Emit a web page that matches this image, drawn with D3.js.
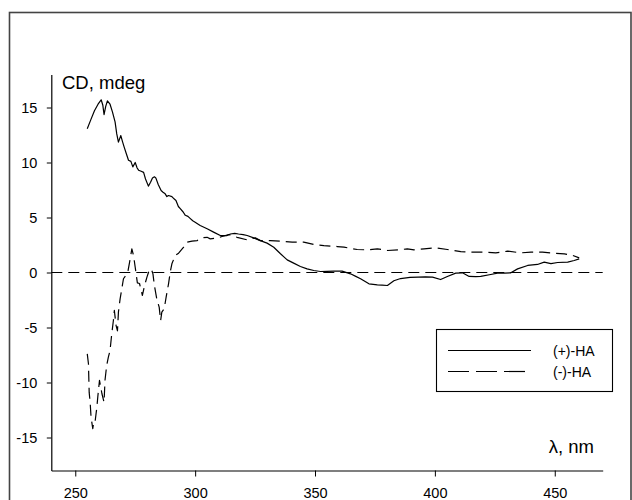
<!DOCTYPE html>
<html>
<head>
<meta charset="utf-8">
<script src="https://cdn.jsdelivr.net/npm/d3@7"></script>
<style>
  html, body { margin: 0; padding: 0; background: #fff; }
  svg { display: block; }
  text { font-family: "Liberation Sans", Arial, sans-serif; fill: #000; }
</style>
</head>
<body>
<svg id="chart" width="632" height="500"></svg>
<script>
// ---- data ----
const xTicks = [250, 300, 350, 400, 450];
const yTicks = [-15, -10, -5, 0, 5, 10, 15];
const seriesNames = ["(+)-HA", "(-)-HA"];

const plusWl = [255.0,256.5,258.0,259.5,260.8,261.5,262.0,262.7,263.4,264.5,265.5,266.6,267.3,268.0,269.0,269.7,270.4,271.3,272.2,273.2,274.0,275.0,275.8,276.4,277.5,278.5,279.3,280.5,281.4,282.2,283.0,283.6,284.6,285.8,286.6,287.5,288.2,288.9,290.3,291.2,292.0,293.0,293.8,295.0,295.9,297.0,298.0,299.0,300.0,302.1,305.0,307.7,310.5,313.3,314.7,316.5,318.1,320.0,321.7,324.4,327.2,330.0,332.8,335.6,338.4,341.1,343.9,346.7,349.5,352.3,355.0,357.8,361.3,364.8,367.0,369.0,372.5,376.0,378.0,380.2,382.9,385.7,389.6,393.0,396.0,399.0,402.4,405.2,408.7,411.5,414.3,417.0,419.1,423.3,426.1,429.0,431.7,434.5,438.7,442.8,445.6,448.4,451.2,455.4,458.1,460.2];
const plusCd = [13.06,13.9,14.7,15.3,15.7,15.2,14.36,15.1,15.6,15.3,14.6,13.7,12.6,11.85,12.45,11.9,11.4,10.8,10.2,10.1,9.6,10.0,9.5,9.3,9.2,9.1,8.5,7.85,8.2,8.6,8.7,8.6,8.0,7.45,7.3,7.15,6.9,7.0,6.9,6.7,6.55,6.0,5.8,5.5,5.2,5.1,4.9,4.7,4.57,4.27,3.97,3.67,3.36,3.36,3.5,3.55,3.5,3.45,3.36,3.15,2.9,2.67,2.3,1.7,1.15,0.85,0.55,0.33,0.18,0.09,0.1,0.12,0.12,-0.12,-0.35,-0.57,-1.03,-1.12,-1.15,-1.18,-0.75,-0.55,-0.45,-0.42,-0.4,-0.42,-0.64,-0.36,-0.06,-0.03,-0.36,-0.38,-0.36,-0.18,-0.06,-0.05,-0.03,0.33,0.64,0.73,0.94,0.8,0.91,0.94,1.09,1.24];

const minusWl = [255.0,255.5,255.6,255.8,256.2,256.6,257.3,257.8,258.3,259.0,259.4,260.1,261.1,262.0,262.4,263.1,263.8,264.5,265.2,265.9,266.3,267.0,267.6,268.0,268.7,269.4,270.1,271.1,271.9,272.9,273.6,274.3,275.0,275.9,276.8,278.0,278.9,279.9,280.8,281.7,282.4,283.0,284.0,285.0,285.6,286.1,287.1,287.9,288.9,289.6,290.3,291.7,293.1,295.2,296.6,298.7,300.8,302.9,305.0,306.3,309.1,311.2,314.0,317.5,321.7,325.1,327.2,331.4,335.6,340.5,345.3,349.5,353.7,359.3,362.1,367.6,371.8,376.0,380.2,385.0,388.5,391.3,395.5,400.3,405.2,410.8,415.0,420.5,425.4,430.3,435.9,440.1,444.9,449.1,454.0,457.5,460.2];
const minusCd = [-7.4,-8.3,-9.2,-10.9,-11.8,-13.2,-14.2,-13.45,-13.5,-12.25,-11.3,-9.8,-11.0,-11.8,-9.8,-8.45,-7.7,-7.1,-5.6,-4.36,-3.45,-4.8,-5.3,-3.6,-2.4,-1.5,-0.57,-0.27,0.03,1.24,2.15,1.55,0.48,-0.94,-1.0,-2.09,-1.18,-0.42,0.18,0.33,-0.12,-1.18,-2.4,-3.15,-4.36,-3.6,-3.3,-2.24,-1.03,0.03,0.79,1.55,1.76,2.3,2.76,2.85,2.9,3.15,3.2,3.06,3.12,3.27,3.45,3.2,2.97,3.15,2.9,2.9,2.85,2.76,2.76,2.55,2.45,2.36,2.3,2.09,2.06,2.15,2.0,2.06,2.15,2.06,2.15,2.24,2.09,1.9,1.85,1.85,1.79,1.94,1.79,1.85,1.85,1.76,1.7,1.55,1.33];

// ---- layout ----
const svg = d3.select("#chart");
const x = d3.scaleLinear().domain([240, 470]).range([51.3, 602.7]);
const y = d3.scaleLinear().domain([-18, 18]).range([470.5, 74.5]);

// outer frame
svg.append("rect")
  .attr("x", 9.5).attr("y", 12.5).attr("width", 621.5).attr("height", 500)
  .attr("fill", "none").attr("stroke", "#444").attr("stroke-width", 1.6);

// zero line
svg.append("line")
  .attr("x1", x(240)).attr("x2", x(470))
  .attr("y1", y(0)).attr("y2", y(0))
  .attr("stroke", "#000").attr("stroke-width", 1)
  .attr("stroke-dasharray", "11,6");

// axes
const fmt = d => String(d);
const yAxis = svg.append("g").attr("transform", `translate(${x(240)},0)`)
  .call(d3.axisLeft(y).tickValues(yTicks).tickSize(4.5).tickSizeOuter(0).tickPadding(9.5).tickFormat(fmt));
const xAxis = svg.append("g").attr("transform", `translate(0,${y(-18)})`)
  .call(d3.axisBottom(x).tickValues(xTicks).tickSize(6).tickSizeOuter(0).tickPadding(11.5).tickFormat(fmt));
[yAxis, xAxis].forEach(g => {
  g.selectAll("path.domain").attr("stroke", "#000").attr("stroke-width", 1.2);
  g.selectAll(".tick line").attr("stroke", "#000").attr("stroke-width", 1);
  g.selectAll("text").attr("font-size", "14.5px")
    .attr("font-family", "'Liberation Sans', Arial, sans-serif").attr("fill", "#000");
});

// curves
const line = d3.line().x(d => x(d[0])).y(d => y(d[1]));
const plusData = plusWl.map((w, i) => [w, plusCd[i]]);
const minusData = minusWl.map((w, i) => [w, minusCd[i]]);

svg.append("path").datum(plusData).attr("d", line)
  .attr("fill", "none").attr("stroke", "#000").attr("stroke-width", 1.2)
  .attr("stroke-linejoin", "round");
svg.append("path").datum(minusData).attr("d", line)
  .attr("fill", "none").attr("stroke", "#000").attr("stroke-width", 1.2)
  .attr("stroke-linejoin", "round").attr("stroke-dasharray", "11,6");

// axis titles
svg.append("text").attr("x", 62).attr("y", 89).attr("font-size", "18.5px").text("CD, mdeg");
svg.append("text").attr("x", 594).attr("y", 453).attr("text-anchor", "end").attr("font-size", "18.5px").text("λ, nm");

// legend
const lg = svg.append("g");
lg.append("rect").attr("x", 436.5).attr("y", 329.5).attr("width", 176).attr("height", 62)
  .attr("fill", "#fff").attr("stroke", "#000").attr("stroke-width", 1.1);
const legendRows = [
  { name: seriesNames[0], dash: null, yy: 350.5 },
  { name: seriesNames[1], dash: "21,7", yy: 371.5 }
];
legendRows.forEach(r => {
  const l = lg.append("line").attr("x1", 448).attr("x2", 531).attr("y1", r.yy).attr("y2", r.yy)
    .attr("stroke", "#000").attr("stroke-width", 1.2);
  if (r.dash) l.attr("stroke-dasharray", r.dash);
  lg.append("text").attr("x", 553).attr("y", r.yy + 5).attr("font-size", "14px").text(r.name);
});
</script>
</body>
</html>
